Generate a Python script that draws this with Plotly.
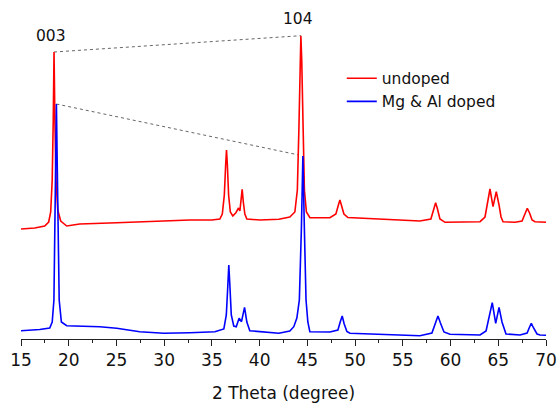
import plotly.graph_objects as go

# ---- data (2-theta in degrees, intensity in arbitrary units) ----
# undoped pattern (plotted with a vertical offset, values as displayed)
undoped_2theta = [15.0, 16.44, 17.48, 17.90, 18.11, 18.27, 18.38, 18.46, 18.55, 18.67, 18.85, 19.16,
                  19.79, 21.15, 25.03, 29.96, 32.69, 34.99, 35.83,
                  36.09, 36.30, 36.44, 36.53, 36.62, 36.75, 36.93, 37.19, 37.51, 37.79, 37.93,
                  38.06, 38.17, 38.29, 38.45, 38.66, 40.02, 42.01,
                  43.16, 43.69, 43.95, 44.11, 44.24, 44.32, 44.41, 44.53, 44.69, 44.90, 45.27,
                  47.36, 47.99, 48.25, 48.41, 48.56, 48.83, 49.25, 52.60, 56.79,
                  57.94, 58.26, 58.44, 58.63, 58.89, 59.42, 63.09,
                  63.61, 63.88, 64.13, 64.45, 64.79, 65.08, 65.29, 65.50, 66.76,
                  67.49, 67.81, 68.04, 68.28, 68.54, 68.85, 70.0]
undoped_int = [110, 111, 113, 117, 127, 159, 219, 287, 219, 159, 129, 118,
               113, 115, 116.3, 118.3, 119, 119, 120,
               125, 144, 174, 189, 174, 144, 127, 123, 126.3, 131, 128,
               139, 149.7, 137, 125, 120, 119, 119.7,
               122, 127, 149, 209, 279, 303.3, 279, 209, 149, 127, 121.3,
               121.3, 125, 134, 139, 134, 125, 121.5, 120, 118,
               120, 131, 136.3, 130, 120, 116.7, 117.3,
               122, 137, 150, 132.3, 147.3, 134, 122, 117.3, 116.7,
               118, 126, 130.7, 126, 119, 117.3, 116.7]

# Mg & Al doped pattern
doped_2theta = [15.0, 16.96, 18.01, 18.27, 18.45, 18.56, 18.64, 18.71, 18.79, 18.87, 19.00, 19.23,
                19.79, 23.25, 25.03, 27.44, 29.96, 32.69, 35.31,
                36.25, 36.51, 36.67, 36.77, 36.88, 37.03, 37.29, 37.55, 37.85, 38.10, 38.42,
                38.66, 38.97, 40.02, 42.01,
                43.16, 43.58, 43.90, 44.16, 44.37, 44.53, 44.69, 44.86, 45.05, 45.26,
                47.36, 48.20, 48.44, 48.65, 48.86, 49.14, 49.46, 52.60, 56.79,
                58.05, 58.42, 58.68, 58.94, 59.31, 59.94, 63.09,
                63.72, 64.03, 64.37, 64.73, 65.08, 65.39, 65.81, 67.28,
                68.02, 68.28, 68.46, 68.70, 69.06, 69.38, 70.0]
doped_int = [8.3, 9.5, 11, 17, 39, 109, 179, 235, 179, 109, 39, 17,
             13.3, 12.3, 10.7, 7.3, 5.7, 6.3, 7.3,
             10, 24, 54, 74, 54, 24, 13, 12.3, 20.7, 17.3, 31.7,
             17, 8.3, 7.5, 5.7,
             8, 12.3, 21, 39, 109, 183, 109, 39, 17, 7.3,
             7, 9, 17, 23, 15, 7.5, 5.7, 4.7, 3.3,
             6, 16, 23, 16, 7, 4.7, 4,
             8, 23, 36.3, 15.7, 31.7, 17, 5, 4,
             6, 12, 15.7, 11, 5, 4, 3.7]

# peak labels and guide lines between the (003) and (104) peak tops
peak_labels = ["003", "104"]
peak_label_2theta = [18.19, 44.0]
peak_label_int = [303, 320]
undoped_guide_2theta = [18.46, 44.32]
undoped_guide_int = [287, 303.3]
doped_guide_2theta = [18.71, 44.11]
doped_guide_int = [235, 184]

x_ticks = [15, 20, 25, 30, 35, 40, 45, 50, 55, 60, 65, 70]

FONT = "DejaVu Sans"

fig = go.Figure()
fig.add_trace(go.Scatter(x=undoped_guide_2theta, y=undoped_guide_int, mode="lines",
                         line=dict(color="#666666", width=1, dash="dot"),
                         showlegend=False, hoverinfo="skip"))
fig.add_trace(go.Scatter(x=doped_guide_2theta, y=doped_guide_int, mode="lines",
                         line=dict(color="#666666", width=1, dash="dot"),
                         showlegend=False, hoverinfo="skip"))
fig.add_trace(go.Scatter(x=undoped_2theta, y=undoped_int, mode="lines", name="undoped",
                         line=dict(color="#ff0000", width=1.6)))
fig.add_trace(go.Scatter(x=doped_2theta, y=doped_int, mode="lines", name="Mg & Al doped",
                         line=dict(color="#0000ff", width=1.6)))

for lab, lx, ly in zip(peak_labels, peak_label_2theta, peak_label_int):
    fig.add_annotation(x=lx, y=ly, text=lab, showarrow=False, xanchor="center", yanchor="middle",
                       font=dict(family=FONT, size=15.5, color="#111111"))

fig.update_layout(
    width=558, height=403,
    margin=dict(l=21, r=12, t=0, b=64),
    paper_bgcolor="white", plot_bgcolor="white",
    font=dict(family=FONT, size=15, color="#111111"),
    showlegend=True,
    legend=dict(x=0.611, y=0.818, xanchor="left", yanchor="top",
                bgcolor="rgba(0,0,0,0)", font=dict(family=FONT, size=15.5, color="#111111"),
                tracegroupgap=0),
    xaxis=dict(range=[15, 70], tickmode="array", tickvals=x_ticks,
               ticks="outside", ticklen=6, tickwidth=1, tickcolor="#222222",
               showline=True, linecolor="#222222", linewidth=1,
               showgrid=False, zeroline=False,
               minor=dict(dtick=2.5, ticks="outside", ticklen=3, tickwidth=1, tickcolor="#222222", showgrid=False),
               tickfont=dict(family=FONT, size=17, color="#111111"),
               title=dict(text="2 Theta (degree)", font=dict(family=FONT, size=17, color="#111111"), standoff=17)),
    yaxis=dict(range=[0, 339], visible=False, showgrid=False, zeroline=False),
)

fig.write_html("out.html", config={"displayModeBar": False},
               post_script="document.body.style.margin='0px';")
